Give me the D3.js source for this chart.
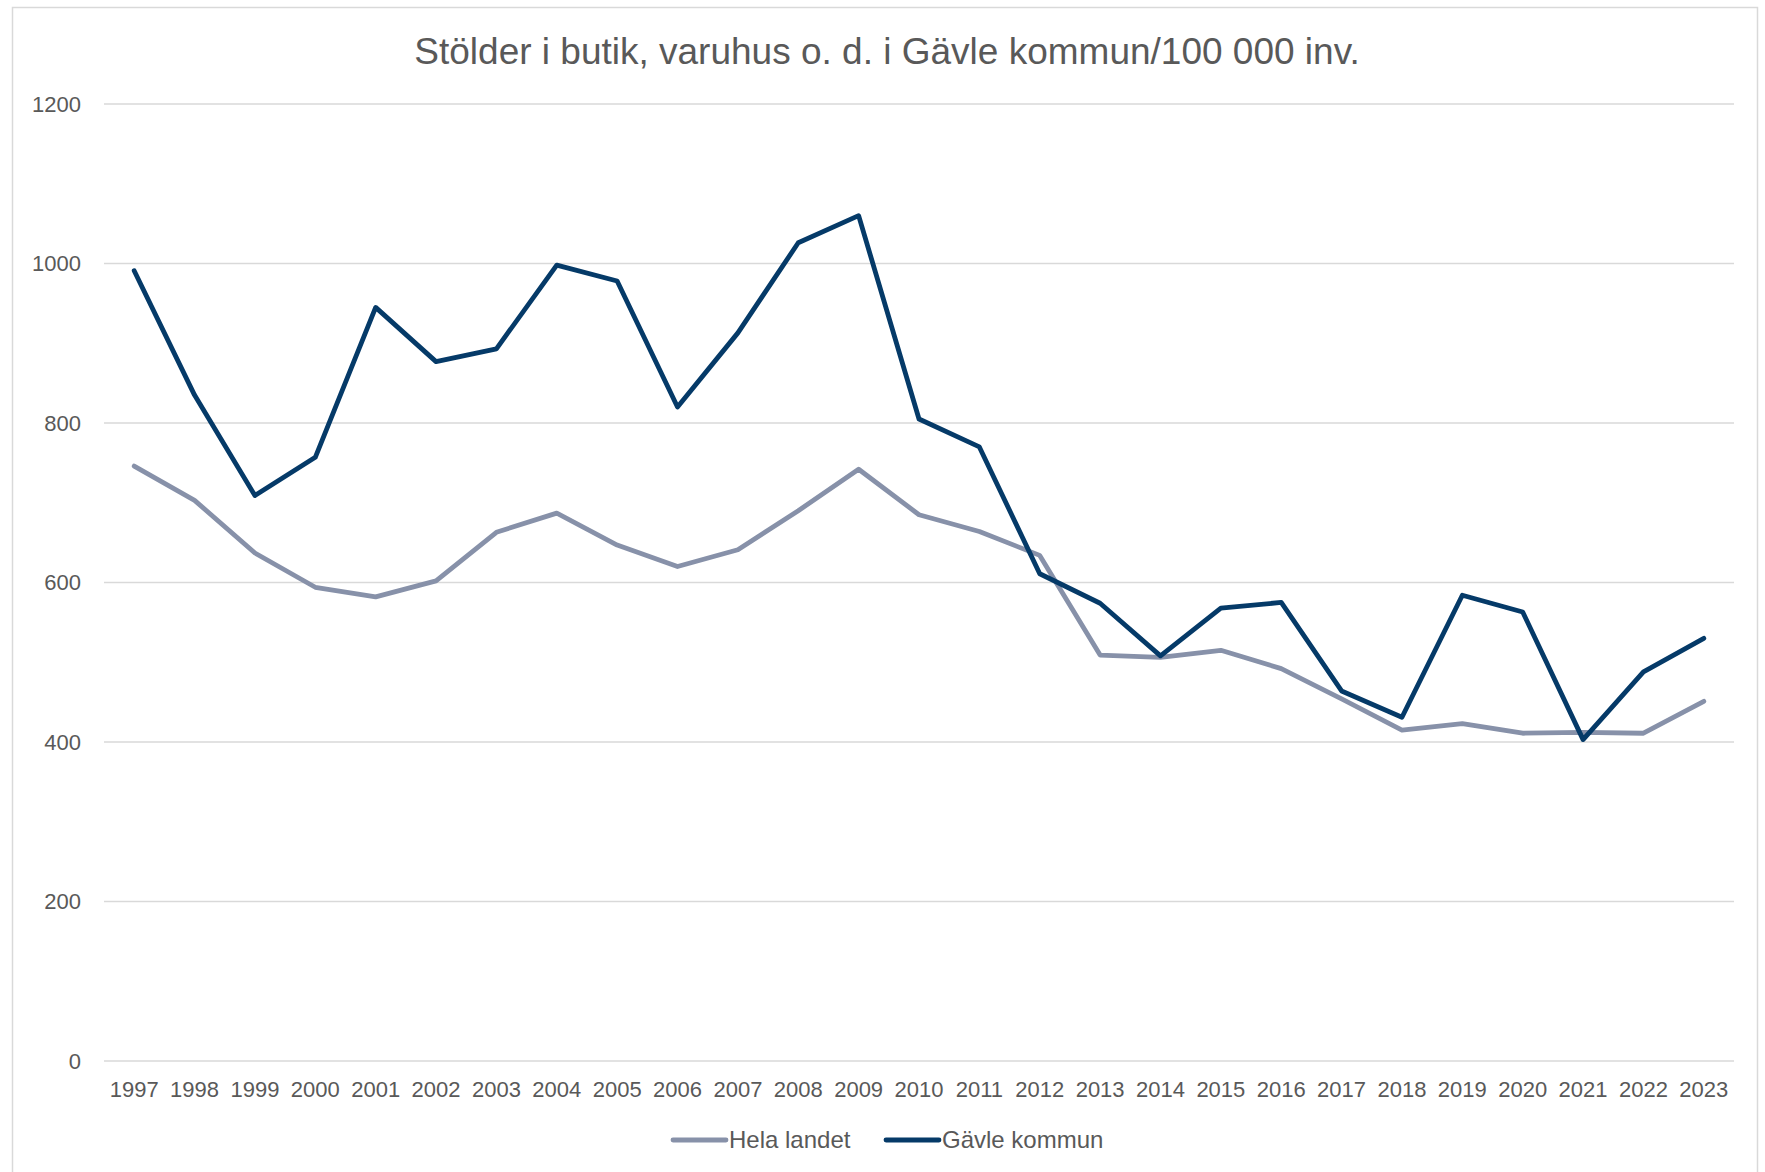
<!DOCTYPE html>
<html>
<head>
<meta charset="utf-8">
<script src="https://cdn.jsdelivr.net/npm/d3@7"></script>
<style>
  body { margin: 0; background: #fff; }
  text { font-family: "Liberation Sans", Arial, sans-serif; fill: #595959; }
</style>
</head>
<body>
<div id="graf"></div>
<script>
// I. Datos
years = ['1997', '1998', '1999', '2000', '2001', '2002', '2003', '2004', '2005', '2006',
         '2007', '2008', '2009', '2010', '2011', '2012', '2013', '2014', '2015', '2016',
         '2017', '2018', '2019', '2020', '2021', '2022', '2023']

helaLandet = [746, 703, 637, 594, 582, 602, 663, 687, 647, 620,
              641, 690, 742, 685, 664, 634, 509, 506, 515, 492,
              454, 415, 423, 411, 412, 411, 451]

gavleKommun = [991, 835, 709, 757, 945, 877, 893, 998, 978, 820,
               913, 1026, 1060, 805, 770, 611, 574, 508, 568, 575,
               464, 431, 584, 563, 403, 488, 530]

yTicks = [0, 200, 400, 600, 800, 1000, 1200]

seriesNames = ['Hela landet', 'Gävle kommun']
seriesColors = ['#8791a9', '#053a68']

titleText = 'Stölder i butik, varuhus o. d. i Gävle kommun/100 000 inv.'

// II. Configuración
ancho_total = 1765
alto_total = 1172

margins = { top: 104, left: 104, right: 31, bottom: 111 }

ancho = ancho_total - margins.left - margins.right
alto  = alto_total - margins.top - margins.bottom

svg = d3.select('#graf')
        .append('svg')
        .attr('width', ancho_total)
        .attr('height', alto_total)

// borde del gráfico
svg.append('rect')
   .attr('x', 12.5)
   .attr('y', 7.5)
   .attr('width', 1745)
   .attr('height', 1200)
   .attr('fill', 'none')
   .attr('stroke', '#d9d9d9')
   .attr('stroke-width', 1.5)

svg.append('text')
   .attr('x', 887)
   .attr('y', 64)
   .attr('text-anchor', 'middle')
   .style('font-size', '37px')
   .text(titleText)

g = svg.append('g')
       .attr('transform', `translate(${ margins.left }, ${ margins.top })`)

x = d3.scaleBand()
      .domain(years)
      .range([0, ancho])

y = d3.scaleLinear()
      .domain([0, 1200])
      .range([alto, 0])

// rejilla
g.selectAll('line.grid')
 .data(yTicks)
 .enter()
 .append('line')
   .attr('class', 'grid')
   .attr('x1', 0)
   .attr('x2', ancho)
   .attr('y1', d => y(d))
   .attr('y2', d => y(d))
   .attr('stroke', '#d9d9d9')
   .attr('stroke-width', 1.5)

// eje y
yAxisCall = d3.axisLeft(y)
              .tickValues(yTicks)
              .tickFormat(d => d)
              .tickSize(0)
              .tickPadding(23)
yAxisGroup = g.append('g').call(yAxisCall)
yAxisGroup.select('.domain').remove()
yAxisGroup.selectAll('text')
          .style('font-size', '22px')
          .attr('fill', '#595959')

// eje x
xAxisCall = d3.axisBottom(x)
              .tickSize(0)
              .tickPadding(20)
xAxisGroup = g.append('g')
              .attr('transform', `translate(0, ${ alto })`)
              .call(xAxisCall)
xAxisGroup.select('.domain').remove()
xAxisGroup.selectAll('text')
          .style('font-size', '22px')
          .attr('fill', '#595959')

// III. Líneas
linea = d3.line()
          .x((d, i) => x(years[i]) + x.bandwidth() / 2)
          .y(d => y(d))

;[helaLandet, gavleKommun].forEach((serie, i) => {
  g.append('path')
   .datum(serie)
   .attr('d', linea)
   .attr('fill', 'none')
   .attr('stroke', seriesColors[i])
   .attr('stroke-width', 4.8)
   .attr('stroke-linejoin', 'round')
   .attr('stroke-linecap', 'round')
})

// IV. Leyenda
legendX = [673, 886]
legend = svg.append('g')
            .attr('transform', 'translate(0, 1140)')

seriesNames.forEach((nombre, i) => {
  legend.append('line')
        .attr('x1', legendX[i])
        .attr('x2', legendX[i] + 53)
        .attr('y1', 0)
        .attr('y2', 0)
        .attr('stroke', seriesColors[i])
        .attr('stroke-width', 4.8)
        .attr('stroke-linecap', 'round')
  legend.append('text')
        .attr('x', legendX[i] + 56)
        .attr('y', 0)
        .attr('dy', '0.35em')
        .style('font-size', '24px')
        .text(nombre)
})
</script>
</body>
</html>
